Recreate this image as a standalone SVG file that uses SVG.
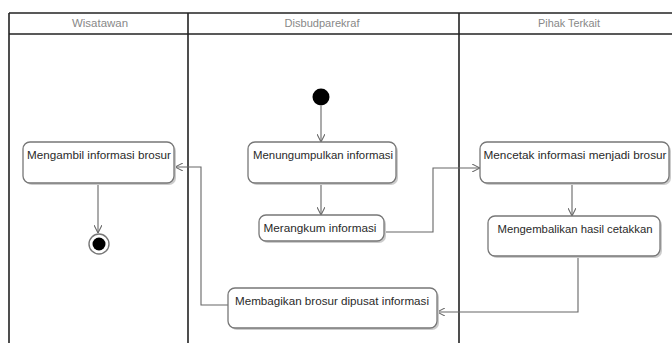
<svg xmlns="http://www.w3.org/2000/svg" width="672" height="343" viewBox="0 0 672 343">
<defs>
<style>
.lane{fill:none;stroke:#222;stroke-width:1.6}
.hdr{font-family:"Liberation Sans",Arial,sans-serif;font-size:11px;fill:#888;text-anchor:middle}
.box{fill:#fff;stroke:#777;stroke-width:1.3}
.shadow{fill:#ccc}
.lbl{font-family:"Liberation Sans",Arial,sans-serif;font-size:11.5px;fill:#2a2a2a;text-anchor:middle}
.edge{fill:none;stroke:#666;stroke-width:1.1}
</style>
<marker id="arr" viewBox="0 0 10 10" refX="10" refY="5" markerWidth="8" markerHeight="8" orient="auto" markerUnits="userSpaceOnUse">
<path d="M0,0 L10,5 L0,10" fill="none" stroke="#666" stroke-width="1.3"/>
</marker>
</defs>
<rect width="672" height="343" fill="#fff"/>
<g id="swimlanes">
<line class="lane" x1="9" y1="13" x2="680" y2="13"/>
<line class="lane" x1="9" y1="34" x2="680" y2="34"/>
<line class="lane" x1="9" y1="13" x2="9" y2="343"/>
<line class="lane" x1="188" y1="13" x2="188" y2="343"/>
<line class="lane" x1="459" y1="13" x2="459" y2="343"/>
<text class="hdr" x="100" y="27" textLength="56" lengthAdjust="spacingAndGlyphs">Wisatawan</text>
<text class="hdr" x="322" y="27" textLength="75" lengthAdjust="spacingAndGlyphs">Disbudparekraf</text>
<text class="hdr" x="569" y="27" textLength="62" lengthAdjust="spacingAndGlyphs">Pihak Terkait</text>
</g>
<g id="connectors">
<line class="edge" x1="321" y1="106" x2="321" y2="142" marker-end="url(#arr)"/>
<line class="edge" x1="321" y1="183" x2="321" y2="215" marker-end="url(#arr)"/>
<polyline class="edge" points="384,232 433,232 433,168 480,168" marker-end="url(#arr)"/>
<line class="edge" x1="572" y1="183" x2="572" y2="216" marker-end="url(#arr)"/>
<polyline class="edge" points="578,256 578,312 437,312" marker-end="url(#arr)"/>
<polyline class="edge" points="228,305 201,305 201,167 175,167" marker-end="url(#arr)"/>
<line class="edge" x1="98" y1="183" x2="98" y2="233" marker-end="url(#arr)"/>
</g>
<g id="start">
<circle cx="321" cy="97" r="8.5" fill="#000"/>
</g>
<g id="n1">
<rect class="shadow" x="250" y="144" width="148" height="41" rx="7"/>
<rect class="box" x="248" y="142" width="148" height="41" rx="7"/>
<text class="lbl" x="323" y="159" textLength="140" lengthAdjust="spacingAndGlyphs">Menungumpulkan informasi</text>
</g>
<g id="n2">
<rect class="shadow" x="261" y="217" width="125" height="26" rx="7"/>
<rect class="box" x="259" y="215" width="125" height="26" rx="7"/>
<text class="lbl" x="320" y="232" textLength="113" lengthAdjust="spacingAndGlyphs">Merangkum informasi</text>
</g>
<g id="n3">
<rect class="shadow" x="482" y="144" width="189" height="41" rx="7"/>
<rect class="box" x="480" y="142" width="189" height="41" rx="7"/>
<text class="lbl" x="575" y="159" textLength="183" lengthAdjust="spacingAndGlyphs">Mencetak informasi menjadi brosur</text>
</g>
<g id="n4">
<rect class="shadow" x="490" y="218" width="172" height="40" rx="7"/>
<rect class="box" x="488" y="216" width="172" height="40" rx="7"/>
<text class="lbl" x="575" y="233" textLength="155" lengthAdjust="spacingAndGlyphs">Mengembalikan hasil cetakkan</text>
</g>
<g id="n5">
<rect class="shadow" x="230" y="290" width="209" height="40" rx="7"/>
<rect class="box" x="228" y="288" width="209" height="40" rx="7"/>
<text class="lbl" x="332" y="305" textLength="194" lengthAdjust="spacingAndGlyphs">Membagikan brosur dipusat informasi</text>
</g>
<g id="n6">
<rect class="shadow" x="25" y="144" width="151" height="41" rx="7"/>
<rect class="box" x="23" y="142" width="151" height="41" rx="7"/>
<text class="lbl" x="99" y="159" textLength="144" lengthAdjust="spacingAndGlyphs">Mengambil informasi brosur</text>
</g>
<g id="end">
<circle cx="99" cy="244" r="10" fill="#fff" stroke="#777" stroke-width="1.4"/>
<circle cx="99" cy="244" r="6.5" fill="#000"/>
</g>
</svg>
